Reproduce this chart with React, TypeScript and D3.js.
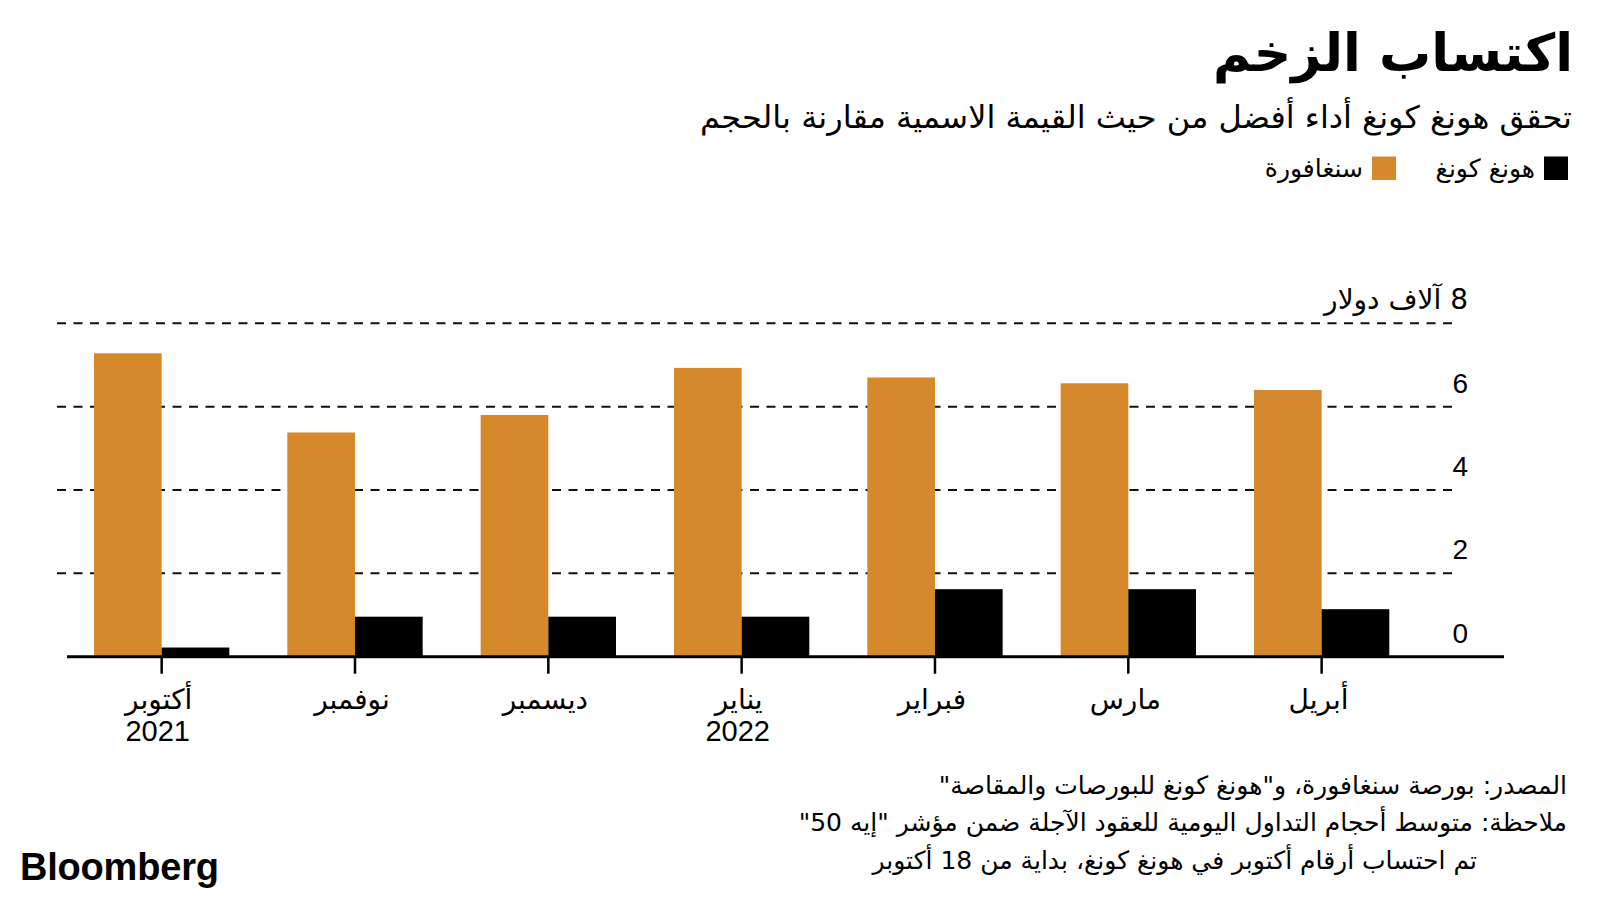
import React from "react";
import * as d3 from "d3";

const months = ["أكتوبر", "نوفمبر", "ديسمبر", "يناير", "فبراير", "مارس", "أبريل"];
const years = ["2021", "", "", "2022", "", "", ""];
const singapore = [7.28, 5.38, 5.8, 6.93, 6.7, 6.56, 6.4];
const hongKong = [0.22, 0.96, 0.96, 0.96, 1.62, 1.62, 1.14];
const yTicks = [0, 2, 4, 6, 8];
const yTickLabels = ["0", "2", "4", "6", "8 آلاف دولار"];
const seriesNames = ["هونغ كونغ", "سنغافورة"];
const seriesColors = ["#000000", "#D5892B"];
const title = "اكتساب الزخم";
const subtitle = "تحقق هونغ كونغ أداء أفضل من حيث القيمة الاسمية مقارنة بالحجم";
const notes = [
  "المصدر: بورصة سنغافورة، و\"هونغ كونغ للبورصات والمقاصة\"",
  "ملاحظة: متوسط أحجام التداول اليومية للعقود الآجلة ضمن مؤشر \"إيه 50\"",
  "تم احتساب أرقام أكتوبر في هونغ كونغ، بداية من 18 أكتوبر",
];

const AR = "'DejaVu Sans', 'Noto Sans', sans-serif";
const LAT = "'Liberation Sans', Arial, sans-serif";

export default function App() {
  const W = 1600;
  const H = 900;
  const x = d3.scaleBand<string>().domain(months).range([65, 1418.3]).paddingInner(0.3).paddingOuter(0.15);
  const x1 = d3.scaleBand<string>().domain(["sg", "hk"]).range([0, x.bandwidth()]);
  const y = d3.scaleLinear().domain([0, 8]).range([656.7, 323.3]);
  const rtl: React.CSSProperties = { direction: "rtl" };

  return (
    <svg width={W} height={H} style={{ position: "fixed", left: 0, top: 0, background: "#fff" }}>
      <rect width={W} height={H} fill="#fff" />
      {/* Title */}
      <text x={1573} y={71} style={rtl} textAnchor="start" fontFamily={AR} fontWeight="bold" fontSize={52} fill="#000">
        {title}
      </text>
      <text x={1572} y={128} style={rtl} textAnchor="start" fontFamily={AR} fontSize={31} textLength={872} lengthAdjust="spacingAndGlyphs" fill="#000">
        {subtitle}
      </text>
      {/* Legend */}
      {seriesNames.map((s, i) => {
        const right = i === 0 ? 1568 : 1396;
        return (
          <g key={s}>
            <rect x={right - 24} y={156.5} width={24} height={23.5} fill={seriesColors[i]} />
            <text x={right - 33} y={177} style={rtl} textAnchor="start" fontFamily={AR} fontSize={25} fill="#000">
              {s}
            </text>
          </g>
        );
      })}
      {/* Grid */}
      {yTicks.filter((t) => t > 0).map((t) => (
        <line key={t} x1={57} x2={1459} y1={y(t)} y2={y(t)} stroke="#111" strokeWidth={2} strokeDasharray="9,7.5" />
      ))}
      {/* Bars */}
      {months.map((m, i) => (
        <g key={m} transform={`translate(${x(m)},0)`}>
          <rect x={x1("sg")} y={y(singapore[i])} width={x1.bandwidth()} height={y(0) - y(singapore[i])} fill={seriesColors[1]} />
          <rect x={x1("hk")} y={y(hongKong[i])} width={x1.bandwidth()} height={y(0) - y(hongKong[i])} fill={seriesColors[0]} />
        </g>
      ))}
      {/* Y tick labels */}
      {yTicks.map((t, i) => (
        <text key={t} x={1468} y={y(t) - 14} style={rtl} textAnchor="start" fontFamily={i === yTicks.length - 1 ? AR : LAT} fontSize={28} fill="#000">
          {yTickLabels[i]}
        </text>
      ))}
      {/* X axis */}
      <line x1={67} x2={1504} y1={y(0)} y2={y(0)} stroke="#000" strokeWidth={3} />
      {months.map((m, i) => {
        const cx = (x(m) as number) + x.bandwidth() / 2;
        return (
          <g key={m}>
            <line x1={cx} x2={cx} y1={y(0)} y2={y(0) + 17} stroke="#000" strokeWidth={2.5} />
            <text x={cx - 3} y={709} textAnchor="middle" fontFamily={AR} fontSize={28} fill="#000">
              {m}
            </text>
            {years[i] && (
              <text x={cx - 4} y={741} textAnchor="middle" fontFamily={LAT} fontSize={29} fill="#000">
                {years[i]}
              </text>
            )}
          </g>
        );
      })}
      {/* Notes */}
      {notes.map((n, i) => (
        <text key={i} x={i === 2 ? 1477 : 1567} y={[794, 831, 869][i]} style={rtl} textAnchor="start" fontFamily={AR} fontSize={25} fill="#000">
          {n}
        </text>
      ))}
      {/* Logo */}
      <text x={20} y={880} fontFamily={LAT} fontWeight="bold" fontSize={38} letterSpacing={-0.2} fill="#000">
        Bloomberg
      </text>
    </svg>
  );
}
